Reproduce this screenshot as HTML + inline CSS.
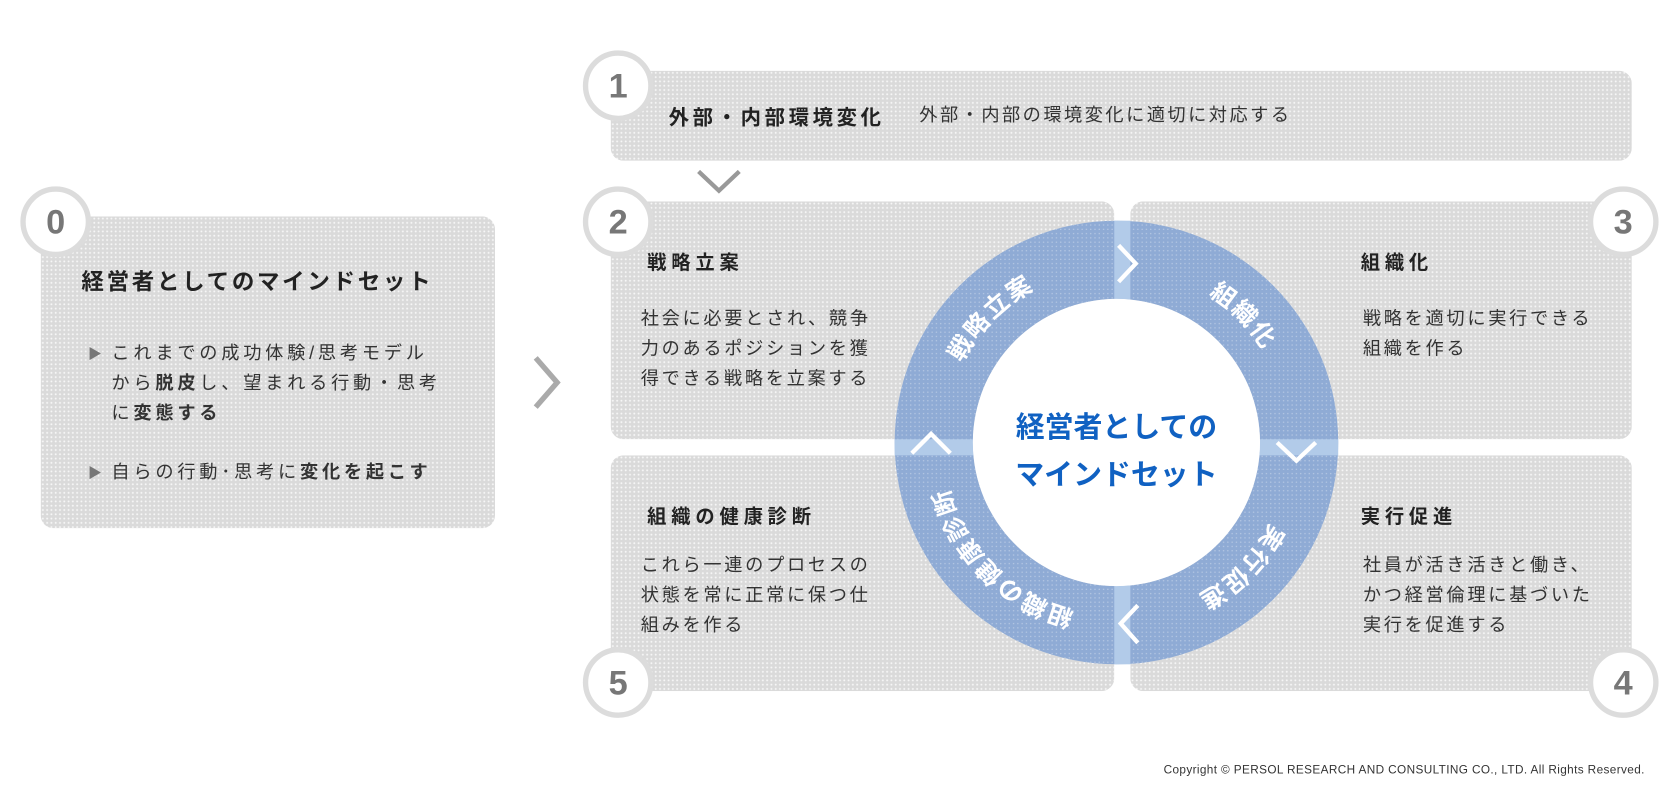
<!DOCTYPE html>
<html><head><meta charset="utf-8"><style>
html,body{margin:0;padding:0;background:#fff;width:1680px;height:800px;overflow:hidden}
#w{position:absolute;left:0;top:0;width:1568px;height:747px;transform:scale(1.07143);transform-origin:0 0;font-family:"Liberation Sans","Noto Sans CJK JP",sans-serif;color:#333}
.box{position:absolute;border-radius:12px;background:radial-gradient(circle,rgba(255,255,255,.75) 0.7px,transparent 1.1px) 0 0/4px 4px,#dadada}
.num{position:absolute;width:56px;height:56px;border-radius:50%;background:#fff;border:5px solid #dcdcdc;color:#777;font:bold 32px/56px "Liberation Sans",sans-serif;text-align:center}
.t{position:absolute;white-space:nowrap}
.b{font-weight:bold;font-size:18px;letter-spacing:4.5px;color:#222}
.p{font-size:17px;line-height:28px;letter-spacing:2.5px;color:#333}
.q{font-size:17px;line-height:28px;letter-spacing:3.5px;color:#333}
</style></head><body><div id="w">
<div class="box" style="left:38px;top:202px;width:424px;height:291px"></div>
<div class="num" style="left:19px;top:174px">0</div>
<div class="t" style="left:76px;top:247px;font-size:21px;letter-spacing:2.5px;font-weight:bold;color:#222">経営者としてのマインドセット</div>
<div class="t q" style="left:82px;top:316px"><span style="color:#777;font-size:13px">▶</span></div>
<div class="t q" style="left:104px;top:316px">これまでの成功体験/思考モデル<br>から<b>脱皮</b>し、望まれる行動・思考<br>に<b>変態する</b></div>
<div class="t q" style="left:82px;top:427px"><span style="color:#777;font-size:13px">▶</span></div>
<div class="t q" style="left:104px;top:427px">自らの行動･思考に<b>変化を起こす</b></div>
<svg style="position:absolute;left:495px;top:330px" width="32" height="54"><polyline points="5,4 25,27 5,50" fill="none" stroke="#aaa" stroke-width="5"/></svg>

<div class="box" style="left:570px;top:66px;width:953px;height:84px"></div>
<div class="num" style="left:544px;top:47px">1</div>
<div class="t b" style="left:624px;top:95px;font-size:19px;letter-spacing:3.4px">外部・内部環境変化</div>
<div class="t p" style="left:858px;top:94px;letter-spacing:2.3px">外部・内部の環境変化に適切に対応する</div>
<svg style="position:absolute;left:648px;top:156px" width="46" height="26"><polyline points="4,4 23,22 42,4" fill="none" stroke="#999" stroke-width="4"/></svg>

<div class="box" style="left:570px;top:188px;width:470px;height:222px"></div>
<div class="box" style="left:1055px;top:188px;width:468px;height:222px"></div>
<div class="box" style="left:570px;top:425px;width:470px;height:220px"></div>
<div class="box" style="left:1055px;top:425px;width:468px;height:220px"></div>
<div class="num" style="left:544px;top:174px">2</div>
<div class="num" style="left:1482px;top:174px">3</div>
<div class="num" style="left:544px;top:604px">5</div>
<div class="num" style="left:1482px;top:604px">4</div>

<div class="t b" style="left:604px;top:231px">戦略立案</div>
<div class="t p" style="left:598px;top:284px">社会に必要とされ、競争<br>力のあるポジションを獲<br>得できる戦略を立案する</div>
<div class="t b" style="left:1270px;top:231px">組織化</div>
<div class="t p" style="left:1272px;top:284px">戦略を適切に実行できる<br>組織を作る</div>
<div class="t b" style="left:604px;top:468px">組織の健康診断</div>
<div class="t p" style="left:598px;top:514px">これら一連のプロセスの<br>状態を常に正常に保つ仕<br>組みを作る</div>
<div class="t b" style="left:1270px;top:468px">実行促進</div>
<div class="t p" style="left:1272px;top:514px">社員が活き活きと働き、<br>かつ経営倫理に基づいた<br>実行を促進する</div>

<svg style="position:absolute;left:0;top:0" width="1568" height="747">
<defs>
<mask id="m"><rect width="1568" height="747" fill="#fff"/><circle cx="1042" cy="413" r="134" fill="#000"/></mask>
<pattern id="dp" width="4" height="4" patternUnits="userSpaceOnUse"><circle cx="2" cy="2" r="0.7" fill="rgba(255,255,255,.35)"/></pattern>
<path id="arc" d="M1212,413 A170,170 0 1,1 872,413 A170,170 0 1,1 1212,413"/>
</defs>
<circle cx="1042" cy="413" r="207" fill="#8fabd5" mask="url(#m)"/>
<circle cx="1042" cy="413" r="207" fill="url(#dp)" mask="url(#m)"/>
<rect x="1040" y="206" width="15" height="414" fill="#b2cbe9" mask="url(#m)"/>
<rect x="835" y="410" width="414" height="15" fill="#b2cbe9" mask="url(#m)"/>
<circle cx="1042" cy="413" r="134" fill="#fff"/>
<g fill="none" stroke="#fff" stroke-width="4">
<polyline points="1044,229 1060,246 1044,263"/>
<polyline points="1192,413 1210,430 1228,413"/>
<polyline points="1062,565 1046,582 1062,600"/>
<polyline points="851,423 869,405 887,423"/>
</g>
<g fill="#fff" font-weight="bold" font-size="23" font-family="Liberation Sans,Noto Sans CJK JP,sans-serif" letter-spacing="3">
<text dy="8"><textPath href="#arc" startOffset="667" text-anchor="middle">戦略立案</textPath></text>
<text dy="8"><textPath href="#arc" startOffset="935" text-anchor="middle">組織化</textPath></text>
<text dy="8"><textPath href="#arc" startOffset="134" text-anchor="middle">実行促進</textPath></text>
<text dy="8"><textPath href="#arc" startOffset="400" text-anchor="middle">組織の健康診断</textPath></text>
</g>
<g fill="#1061c2" font-weight="bold" font-size="27" font-family="Liberation Sans,Noto Sans CJK JP,sans-serif" text-anchor="middle">
<text x="1042" y="408">経営者としての</text>
<text x="1042" y="452">マインドセット</text>
</g>
</svg>
<div class="t" style="left:1086px;top:713px;font-size:11px;letter-spacing:0.35px;color:#333">Copyright © PERSOL RESEARCH AND CONSULTING CO., LTD. All Rights Reserved.</div>
</div></body></html>
